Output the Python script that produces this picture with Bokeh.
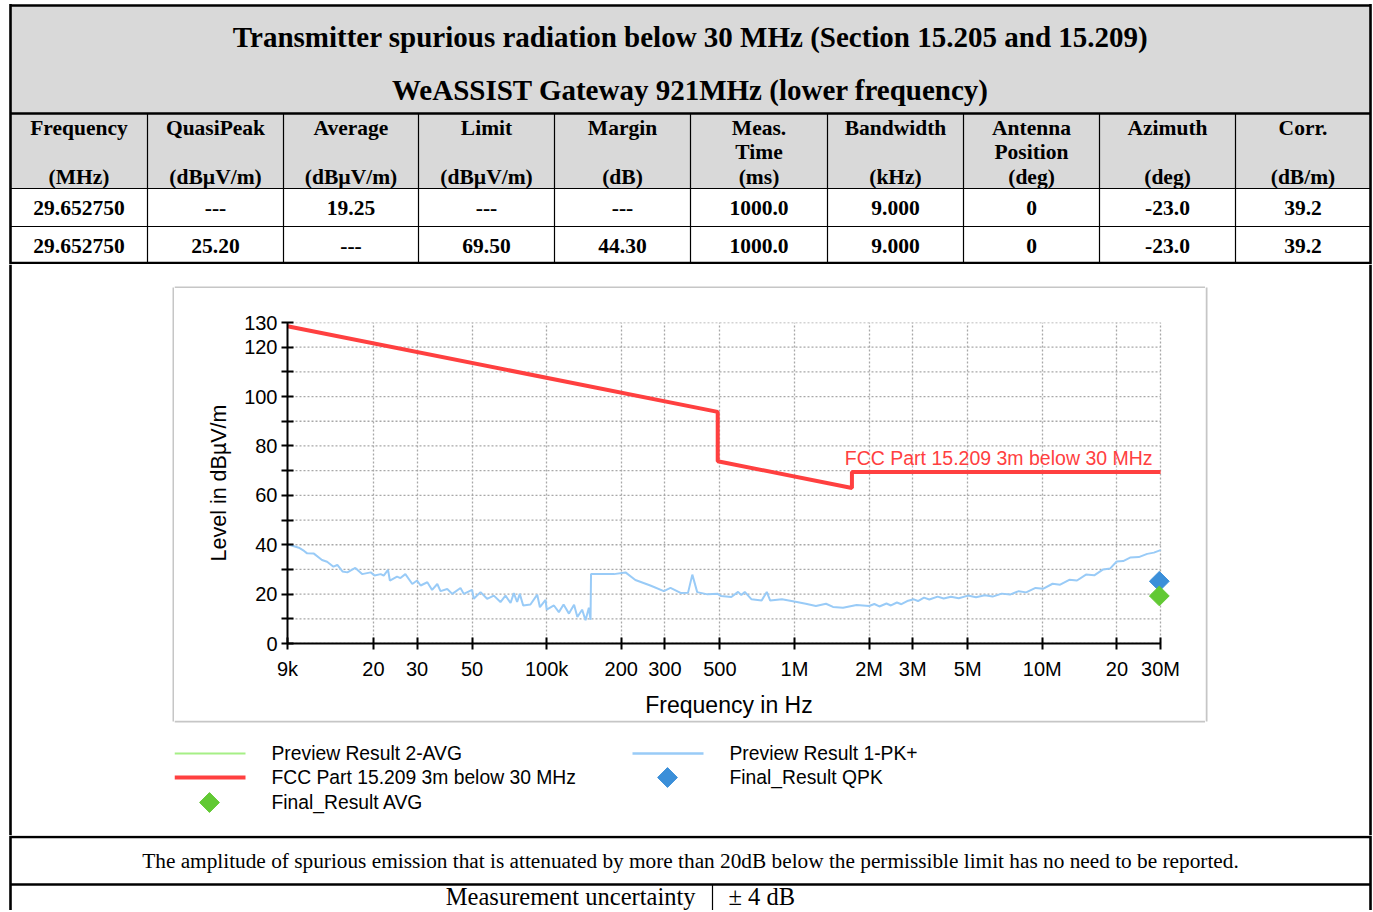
import numpy as np
from bokeh.plotting import figure
from bokeh.models import Range1d, FixedTicker
from bokeh.layouts import column, row
from bokeh.embed import file_html
from bokeh.resources import INLINE
from bokeh.core.properties import value

# ---------------- data ----------------
title_lines = ["Transmitter spurious radiation below 30 MHz (Section 15.205 and 15.209)",
               "WeASSIST Gateway 921MHz (lower frequency)"]
col_head1 = ["Frequency", "QuasiPeak", "Average", "Limit", "Margin", "Meas.",
             "Bandwidth", "Antenna", "Azimuth", "Corr."]
col_head2 = ["", "", "", "", "", "Time", "", "Position", "", ""]
col_units = ["(MHz)", "(dBµV/m)", "(dBµV/m)", "(dBµV/m)", "(dB)", "(ms)",
             "(kHz)", "(deg)", "(deg)", "(dB/m)"]
row1 = ["29.652750", "---", "19.25", "---", "---", "1000.0", "9.000", "0", "-23.0", "39.2"]
row2 = ["29.652750", "25.20", "---", "69.50", "44.30", "1000.0", "9.000", "0", "-23.0", "39.2"]

limit_label = "FCC Part 15.209 3m below 30 MHz"
limit_freq = [9e3, 490e3, 490e3, 1.705e6, 1.705e6, 30e6]
limit_level = [128.5, 93.8, 73.8, 63.0, 69.5, 69.5]

pk_freq = [9.0e3, 10.0e3, 10.5e3, 10.8e3, 11.5e3, 12.4e3, 13.0e3, 13.8e3, 14.3e3, 15.0e3,
           15.7e3, 16.9e3, 18.0e3, 19.5e3, 20.2e3, 21.4e3, 22.0e3, 22.9e3, 23.3e3, 24.9e3,
           25.7e3, 26.9e3, 28.7e3, 30.0e3, 31.0e3, 33.0e3, 34.5e3, 36.2e3, 37.3e3, 39.7e3,
           41.6e3, 44.9e3, 46.3e3, 50.0e3, 50.8e3, 54.1e3, 57.5e3, 61.2e3, 65.1e3, 68.2e3,
           71.5e3, 73.7e3, 76.0e3, 77.9e3, 80.4e3, 86.0e3, 91.6e3, 93.9e3, 99.0e3, 100e3,
           107e3, 112e3, 117e3, 123e3, 129e3, 133e3, 139e3, 143.5e3, 148e3, 150.3e3,
           151e3, 186.7e3, 208e3, 228e3, 262e3, 297e3, 316e3, 347e3, 372e3, 387e3,
           405e3, 446e3, 490e3, 506e3, 556e3, 592e3, 610e3, 630e3, 671e3, 737e3,
           773e3, 798e3, 890e3, 1.01e6, 1.11e6, 1.22e6, 1.34e6, 1.43e6, 1.57e6, 1.78e6,
           2.00e6, 2.10e6, 2.20e6, 2.35e6, 2.45e6, 2.59e6, 2.70e6, 2.85e6, 3.03e6, 3.15e6,
           3.33e6, 3.50e6, 3.78e6, 4.00e6, 4.28e6, 4.60e6, 5.01e6, 5.40e6, 5.86e6, 6.30e6,
           6.86e6, 7.40e6, 8.03e6, 8.60e6, 9.39e6, 10.1e6, 11.0e6, 11.8e6, 12.85e6, 13.8e6,
           15.0e6, 16.2e6, 17.6e6, 18.8e6, 19.96e6, 21.2e6, 22.6e6, 24.5e6, 26.5e6, 28.2e6,
           30.0e6]
pk_level = [40.2, 38.8, 37.5, 36.5, 36.4, 33.8, 33.1, 31.1, 31.8, 29.2,
            28.8, 30.6, 28.1, 28.8, 27.5, 28.1, 27.5, 29.8, 25.5, 27.1,
            26.5, 28.1, 24.1, 25.5, 23.5, 24.8, 21.7, 24.1, 21.2, 22.1,
            20.1, 22.5, 20.1, 21.7, 18.1, 20.8, 18.1, 19.4, 16.8, 19.4,
            16.4, 20.4, 16.8, 20.1, 15.4, 15.8, 19.8, 14.7, 17.7, 13.7,
            15.4, 12.7, 15.8, 12.1, 15.7, 10.7, 13.7, 9.4, 14.5, 9.6,
            28.1, 28.1, 28.8, 25.7, 23.5, 21.2, 22.5, 20.5, 20.6, 27.9,
            20.8, 19.9, 20.1, 19.2, 18.8, 20.9, 19.6, 20.9, 17.9, 17.4,
            20.9, 17.4, 17.9, 16.9, 16.1, 15.2, 16.1, 14.8, 14.5, 15.6,
            15.2, 16.0, 15.0, 16.2, 15.4, 16.6, 15.9, 17.2, 17.9, 17.2,
            18.6, 17.8, 19.0, 18.2, 18.9, 18.3, 19.4, 18.7, 19.5, 19.0,
            20.2, 19.8, 21.2, 20.7, 22.5, 22.2, 24.2, 23.8, 25.8, 25.5,
            27.9, 27.6, 30.0, 30.4, 33.2, 33.4, 34.8, 35.0, 36.3, 36.8,
            37.8]

qpk_freq = [29.65275e6]
qpk_level = [25.20]
avg_freq = [29.65275e6]
avg_level = [19.25]

x_ticks = [9e3, 2e4, 3e4, 5e4, 1e5, 2e5, 3e5, 5e5, 1e6, 2e6, 3e6, 5e6, 1e7, 2e7, 3e7]
x_tick_labels = ["9k", "20", "30", "50", "100k", "200", "300", "500", "1M", "2M",
                 "3M", "5M", "10M", "20", "30M"]
y_ticks = [0, 10, 20, 30, 40, 50, 60, 70, 80, 90, 100, 110, 120, 130]
y_tick_labels = ["0", "", "20", "", "40", "", "60", "", "80", "", "100", "", "120", "130"]

legend_labels = ["Preview Result 2-AVG", "FCC Part 15.209 3m below 30 MHz", "Final_Result AVG",
                 "Preview Result 1-PK+", "Final_Result QPK"]
footer_note = ("The amplitude of spurious emission that is attenuated by more than 20dB "
               "below the permissible limit has no need to be reported.")
uncert_label = "Measurement uncertainty"
uncert_value = "± 4 dB"

# ---------------- styles ----------------
RED = "#ff4040"
PK_BLUE = "#99cbf7"
AVG_GREEN = "#a6ef86"
QPK_BLUE = "#3b8fd9"
FAVG_GREEN = "#62c934"
HEAD_GRAY = "#d9d9d9"
BOX_GRAY = "#c6c6c6"
GRID_GRAY = "#a8a8a8"
SERIF = value("Liberation Serif")
SANS = value("Liberation Sans")
W = 1372


def deco(w, h):
    f = figure(width=w, height=h, x_range=Range1d(0, w), y_range=Range1d(h, 0),
               output_backend="svg", toolbar_location=None, min_border=0,
               x_axis_type=None, y_axis_type=None)
    f.outline_line_color = None
    f.background_fill_color = "white"
    f.border_fill_color = "white"
    return f


# ---------------- header table ----------------
HH = 264
head = deco(W, HH)
xb = [10, 147, 283, 418, 554, 690, 827, 963, 1099, 1235, 1370]
y_top, y_title_bot, y_head_bot, y_r1_bot = 5, 113, 188, 226
head.quad(left=[xb[0]], right=[xb[-1]], top=[y_top], bottom=[y_head_bot], fill_color=HEAD_GRAY,
          line_color=None)
head.segment(x0=xb[1:-1], y0=[y_title_bot] * 9, x1=xb[1:-1], y1=[HH] * 9,
             line_color="black", line_width=1.2)
head.segment(x0=[xb[0], xb[0]], y0=[y_head_bot, y_r1_bot], x1=[xb[-1], xb[-1]],
             y1=[y_head_bot, y_r1_bot], line_color="black", line_width=1.2)
head.segment(x0=[xb[0], xb[0], xb[0], xb[0], xb[-1]],
             y0=[y_top, y_title_bot, HH - 1.5, y_top - 1.5, y_top - 1.5],
             x1=[xb[-1], xb[-1], xb[-1], xb[0], xb[-1]],
             y1=[y_top, y_title_bot, HH - 1.5, HH, HH],
             line_color="black", line_width=2.6)
head.text(x=[690, 690], y=[36, 89], text=title_lines, text_align="center",
          text_baseline="middle", text_font=SERIF, text_font_style="bold",
          text_font_size="29px", text_color="black")
cx = [(a + b) / 2 for a, b in zip(xb[:-1], xb[1:])]
for labels, yy in [(col_head1, 127), (col_head2, 151), (col_units, 176),
                   (row1, 207), (row2, 245)]:
    head.text(x=cx, y=[yy] * len(cx), text=labels, text_align="center",
              text_baseline="middle", text_font=SERIF, text_font_style="bold",
              text_font_size="21.5px", text_color="black")

# ---------------- middle section ----------------
MH = 571
BOX_TOP, BOX_BOT = 24, 456          # grey chart box, relative to the section top
LEFT_W, CHART_W, CHART_H = 174, 1031, 432
mid_left = deco(LEFT_W, MH)
mid_left.segment(x0=[xb[0]], y0=[0], x1=[xb[0]], y1=[MH], line_color="black", line_width=2.6)
mid_left.segment(x0=[LEFT_W - 1], y0=[BOX_TOP - 1], x1=[LEFT_W - 1], y1=[BOX_BOT + 1],
                 line_color=BOX_GRAY, line_width=2)

RIGHT_W = W - LEFT_W - CHART_W
mid_right = deco(RIGHT_W, MH)
mid_right.segment(x0=[xb[-1] - LEFT_W - CHART_W], y0=[0], x1=[xb[-1] - LEFT_W - CHART_W],
                  y1=[MH], line_color="black", line_width=2.6)
mid_right.segment(x0=[1], y0=[BOX_TOP - 1], x1=[1], y1=[BOX_BOT + 1],
                  line_color=BOX_GRAY, line_width=2)

mc_top = deco(CHART_W, BOX_TOP)
mc_top.segment(x0=[0], y0=[BOX_TOP - 1], x1=[CHART_W], y1=[BOX_TOP - 1],
               line_color=BOX_GRAY, line_width=2)

# chart (x range slightly past 30 MHz so the final-result diamonds are not clipped)
p = figure(width=CHART_W, height=CHART_H, x_axis_type="log", x_range=Range1d(9e3, 3.29e7),
           y_range=Range1d(0, 130), output_backend="svg", toolbar_location=None,
           min_border_left=113, min_border_right=35, min_border_top=34, min_border_bottom=75)
p.outline_line_color = None
p.background_fill_color = "white"
p.border_fill_color = "white"

p.xaxis.ticker = FixedTicker(ticks=x_ticks)
p.xaxis.major_label_overrides = dict(zip(x_ticks, x_tick_labels))
p.xaxis.bounds = (x_ticks[0], x_ticks[-1])
p.yaxis.ticker = FixedTicker(ticks=y_ticks)
p.yaxis.major_label_overrides = dict(zip(y_ticks, y_tick_labels))
p.xgrid.ticker = FixedTicker(ticks=x_ticks)
p.xgrid.grid_line_color = GRID_GRAY
p.xgrid.grid_line_dash = "2 2"
p.xgrid.grid_line_width = 1.3
p.ygrid.visible = False
# horizontal grid lines limited to the 9 kHz .. 30 MHz span
p.segment(x0=[x_ticks[0]] * len(y_ticks), y0=y_ticks, x1=[x_ticks[-1]] * len(y_ticks),
          y1=y_ticks, line_color=GRID_GRAY, line_dash="2 2", line_width=1.3)

for ax in (p.xaxis, p.yaxis):
    ax.axis_line_width = 2
    ax.axis_line_color = "black"
    ax.major_tick_line_width = 2
    ax.major_tick_line_color = "black"
    ax.major_tick_in = 6
    ax.major_tick_out = 6
    ax.minor_tick_line_color = None
    ax.major_label_text_font = "Liberation Sans"
    ax.major_label_text_font_size = "20px"
    ax.major_label_text_color = "black"
    ax.axis_label_text_font = "Liberation Sans"
    ax.axis_label_text_font_style = "normal"
    ax.axis_label_text_color = "black"
p.xaxis.axis_label = "Frequency in Hz"
p.xaxis.axis_label_text_font_size = "23px"
p.xaxis.major_label_standoff = 8
p.xaxis.axis_label_standoff = 9
p.yaxis.axis_label = "Level in dBµV/m"
p.yaxis.axis_label_text_font_size = "21.5px"
p.yaxis.major_label_standoff = 4
p.yaxis.axis_label_standoff = 10

p.line(pk_freq, pk_level, line_color=PK_BLUE, line_width=2)
p.line(limit_freq, limit_level, line_color=RED, line_width=4)
p.scatter(qpk_freq, qpk_level, marker="square", angle=np.pi / 4, size=14,
          fill_color=QPK_BLUE, line_color=QPK_BLUE)
p.scatter(avg_freq, avg_level, marker="square", angle=np.pi / 4, size=14,
          fill_color=FAVG_GREEN, line_color=FAVG_GREEN)
p.text(x=[limit_freq[-1]], y=[limit_level[-1]], text=[limit_label], text_align="right",
       text_baseline="bottom", x_offset=-8, y_offset=-3, text_color=RED, text_font=SANS,
       text_font_size="19.5px")

# legend
leg = deco(CHART_W, MH - BOX_BOT)
leg.segment(x0=[0], y0=[1], x1=[CHART_W], y1=[1], line_color=BOX_GRAY, line_width=2)
leg_rows = [33, 57, 82]
col_x = [0, 458]
kinds = ["line", "line", "marker", "line", "marker"]
colors = [AVG_GREEN, RED, FAVG_GREEN, PK_BLUE, QPK_BLUE]
widths = [2, 4, 0, 2.5, 0]
pos = [(0, 0), (0, 1), (0, 2), (1, 0), (1, 1)]
for lab, kind, c, w, (ci, ri) in zip(legend_labels, kinds, colors, widths, pos):
    x0 = col_x[ci]
    yy = leg_rows[ri]
    if kind == "line":
        leg.segment(x0=[x0], y0=[yy], x1=[x0 + 71], y1=[yy], line_color=c, line_width=w)
    else:
        leg.scatter(x=[x0 + 35], y=[yy], marker="square", angle=np.pi / 4, size=14,
                    fill_color=c, line_color=c)
    leg.text(x=[x0 + 97], y=[yy], text=[lab], text_align="left", text_baseline="middle",
             text_font=SANS, text_font_size="19.3px", text_color="black")

middle = row(mid_left, column(mc_top, row(p), leg), mid_right)

# ---------------- footer ----------------
FH = 910 - HH - MH
foot = deco(W, FH)
foot.segment(x0=[xb[0], xb[0], xb[0], xb[-1], 712],
             y0=[1.5, 49, 0, 0, 49],
             x1=[xb[-1], xb[-1], xb[0], xb[-1], 712],
             y1=[1.5, 49, FH, FH, FH],
             line_color="black", line_width=[2.6, 2.6, 2.6, 2.6, 1.2])
foot.text(x=[690], y=[25], text=[footer_note], text_align="center", text_baseline="middle",
          text_font=SERIF, text_font_size="21.3px", text_color="black")
foot.text(x=[695], y=[61], text=[uncert_label], text_align="right", text_baseline="middle",
          text_font=SERIF, text_font_size="24.5px", text_color="black")
foot.text(x=[728], y=[61], text=[uncert_value], text_align="left", text_baseline="middle",
          text_font=SERIF, text_font_size="24.5px", text_color="black")

layout = column(head, middle, foot)
open("out.html", "w").write(file_html(layout, INLINE))
